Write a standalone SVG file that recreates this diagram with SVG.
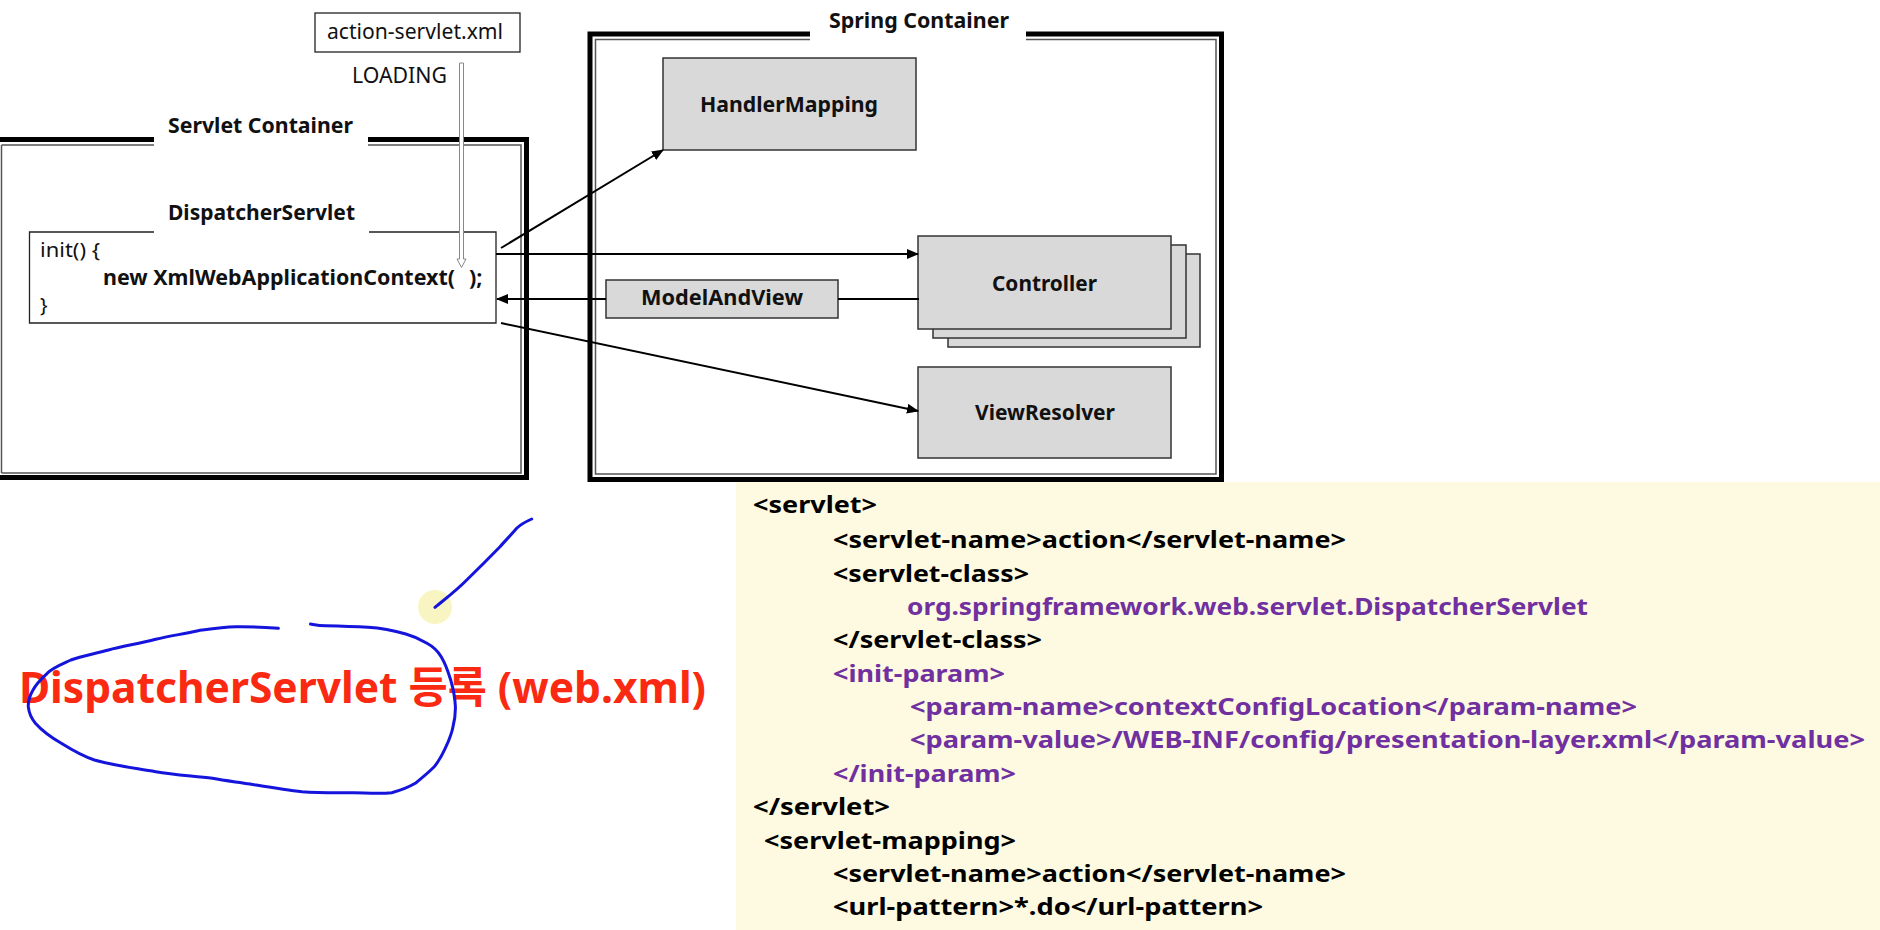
<svg xmlns="http://www.w3.org/2000/svg" width="1880" height="930" viewBox="0 0 1880 930">
<defs>
<style>
text{font-family:"Noto Sans","Noto Sans CJK KR",sans-serif;fill:#111}
.b{font-weight:bold;font-size:21.5px}
.r{font-size:20px}
.c{text-anchor:middle}
.box{fill:#d9d9d9;stroke:#333;stroke-width:1.5}
.thick{fill:none;stroke:#000;stroke-width:5}
.thin{fill:none;stroke:#555;stroke-width:1.5}
.con{fill:none;stroke:#000;stroke-width:2}
.code{font-weight:bold;font-size:23px;fill:#000}
.p{fill:#7030a0}
.ink{fill:none;stroke:#1414dc;stroke-width:3;stroke-linecap:round;stroke-linejoin:round}
</style>
<marker id="ah" markerWidth="12" markerHeight="10" refX="11" refY="5" orient="auto" markerUnits="userSpaceOnUse">
<path d="M0,0 L12,5 L0,10 Z" fill="#000"/>
</marker>
</defs>
<rect width="1880" height="930" fill="#fff"/>

<g id="servlet-container">
<path class="thick" d="M-5 139.5 H154 M368 139.5 H526.5 V477.5 H-5"/>
<path class="thin" d="M1.5 145 V473 M1.5 145 H154 M368 145 H521 V473 H1.5"/>
<text class="b" x="168" y="133" textLength="185" lengthAdjust="spacingAndGlyphs">Servlet Container</text>
</g>

<g id="spring-container">
<path class="thick" d="M1026 34 H1221.5 V479.5 H590 V34 H810"/>
<path class="thin" d="M1026 39.5 H1216 V474 H595.5 V39.5 H810"/>
<text class="b" x="829" y="28" textLength="180" lengthAdjust="spacingAndGlyphs">Spring Container</text>
</g>

<g id="dispatcher-servlet">
<path d="M154 232 H29.5 V323 H496 V232 H369" fill="#fff" stroke="#222" stroke-width="1.3"/>
<text class="b" x="168" y="220" textLength="187" lengthAdjust="spacingAndGlyphs">DispatcherServlet</text>
<text class="r" x="40" y="257" textLength="60" lengthAdjust="spacingAndGlyphs">init() {</text>
<text class="b" x="103" y="285" textLength="352" lengthAdjust="spacingAndGlyphs">new XmlWebApplicationContext(</text>
<text class="b" x="469" y="285">);</text>
<text class="r" x="40" y="312">}</text>
</g>

<g id="action-servlet-xml">
<rect x="315" y="13" width="205" height="39" fill="#fff" stroke="#222" stroke-width="1.3"/>
<text class="r" x="327" y="39" textLength="176" lengthAdjust="spacingAndGlyphs" style="font-size:21px">action-servlet.xml</text>
</g>

<g id="handler-mapping">
<rect class="box" x="663" y="58" width="253" height="92"/>
<text class="b c" x="789" y="112" textLength="178" lengthAdjust="spacingAndGlyphs">HandlerMapping</text>
</g>

<g id="controller">
<rect class="box" x="948" y="254" width="252" height="93"/>
<rect class="box" x="933" y="245" width="253" height="93"/>
<rect class="box" x="918" y="236" width="253" height="93"/>
<text class="b c" x="1044.5" y="291" textLength="105" lengthAdjust="spacingAndGlyphs">Controller</text>
</g>

<g id="model-and-view">
<rect class="box" x="606" y="280" width="232" height="38"/>
<text class="b c" x="722" y="305" textLength="162" lengthAdjust="spacingAndGlyphs">ModelAndView</text>
</g>

<g id="view-resolver">
<rect class="box" x="918" y="367" width="253" height="91"/>
<text class="b c" x="1045" y="420" textLength="140" lengthAdjust="spacingAndGlyphs">ViewResolver</text>
</g>

<g id="connectors">
<path class="con" d="M501 248 L663 150" marker-end="url(#ah)"/>
<path class="con" d="M496 254 L918 254" marker-end="url(#ah)"/>
<path class="con" d="M919 299 L838 299"/>
<path class="con" d="M606 299 L497 299" marker-end="url(#ah)"/>
<path class="con" d="M501 323 L918 411" marker-end="url(#ah)"/>
<path d="M459.5 63 V259 H457 L461.5 267.5 L466 259 H463.5 V63 Z" fill="#fff" stroke="#888" stroke-width="1"/>
<text class="r" x="352" y="83" textLength="95" lengthAdjust="spacingAndGlyphs" style="font-size:21px">LOADING</text>
</g>

<g id="code-panel">
<rect x="736" y="482" width="1144" height="448" fill="#fdfae1"/>
<text class="code" x="753" y="513" textLength="124" lengthAdjust="spacingAndGlyphs">&lt;servlet&gt;</text>
<text class="code" x="833" y="548" textLength="513" lengthAdjust="spacingAndGlyphs">&lt;servlet-name&gt;action&lt;/servlet-name&gt;</text>
<text class="code" x="833" y="582" textLength="196" lengthAdjust="spacingAndGlyphs">&lt;servlet-class&gt;</text>
<text class="code p" x="907" y="615" textLength="681" lengthAdjust="spacingAndGlyphs">org.springframework.web.servlet.DispatcherServlet</text>
<text class="code" x="833" y="648" textLength="209" lengthAdjust="spacingAndGlyphs">&lt;/servlet-class&gt;</text>
<text class="code p" x="833" y="682" textLength="172" lengthAdjust="spacingAndGlyphs">&lt;init-param&gt;</text>
<text class="code p" x="910" y="715" textLength="727" lengthAdjust="spacingAndGlyphs">&lt;param-name&gt;contextConfigLocation&lt;/param-name&gt;</text>
<text class="code p" x="910" y="748" textLength="955" lengthAdjust="spacingAndGlyphs">&lt;param-value&gt;/WEB-INF/config/presentation-layer.xml&lt;/param-value&gt;</text>
<text class="code p" x="833" y="782" textLength="183" lengthAdjust="spacingAndGlyphs">&lt;/init-param&gt;</text>
<text class="code" x="753" y="815" textLength="137" lengthAdjust="spacingAndGlyphs">&lt;/servlet&gt;</text>
<text class="code" x="764" y="849" textLength="252" lengthAdjust="spacingAndGlyphs">&lt;servlet-mapping&gt;</text>
<text class="code" x="833" y="882" textLength="513" lengthAdjust="spacingAndGlyphs">&lt;servlet-name&gt;action&lt;/servlet-name&gt;</text>
<text class="code" x="833" y="915" textLength="430" lengthAdjust="spacingAndGlyphs">&lt;url-pattern&gt;*.do&lt;/url-pattern&gt;</text>
</g>

<g id="annotation">
<text x="19" y="703" textLength="687" lengthAdjust="spacingAndGlyphs" style="font-weight:bold;font-size:43px;fill:#fa2a12">DispatcherServlet 등록 (web.xml)</text>
<circle cx="435" cy="607" r="17" fill="#f3ee9a" opacity="0.6"/>
<path class="ink" d="M278.4 628.3 C260 627 246 626.5 236 626.7 C222 627 210 629 198.2 630.7 C183 634 170 636 155.7 639.3 C138 644 122 646 108.5 650 C94 654 82 656 70.8 660 C60 665 52 668 47.2 673.3 C40 680 36 684 33 690 C29 697 28 701 28.3 706.7 C29 714 31 718 35.4 723.3 C44 733 52 738 61.3 743.3 C72 750 82 756 94.4 760 C115 766 135 768 155.7 771.7 C175 775 195 776 212.4 778.3 C226 781 238 782 250 784 C268 787 285 790 302 791.7 C320 793 337 792.5 354 792.7 C368 793 380 794 391.7 792.7 C402 790 409 787 415.3 783.3 C423 777 429 772 434.2 766.7 C440 760 443 753 446 746.7 C450 738 452 732 453 726.7 C455 719 455.5 713 455.4 706.7 C455 697 453 688 450.7 680 C448 671 445 663 441.2 656.7 C437 650 432 646 427 643.3 C420 639 413 636 405.8 634 C392 630 380 628 368 627.3 C355 626.5 340 626 325.6 625.7 C318 625.5 314 624.5 310.5 624"/>
<path class="ink" d="M531.7 519 C525 522 520 525 516.7 528.3 C511 535 505 541 500 546.7 C489 558 478 569 466.7 580 C456 591 445 599 435 607.3"/>
</g>
</svg>
